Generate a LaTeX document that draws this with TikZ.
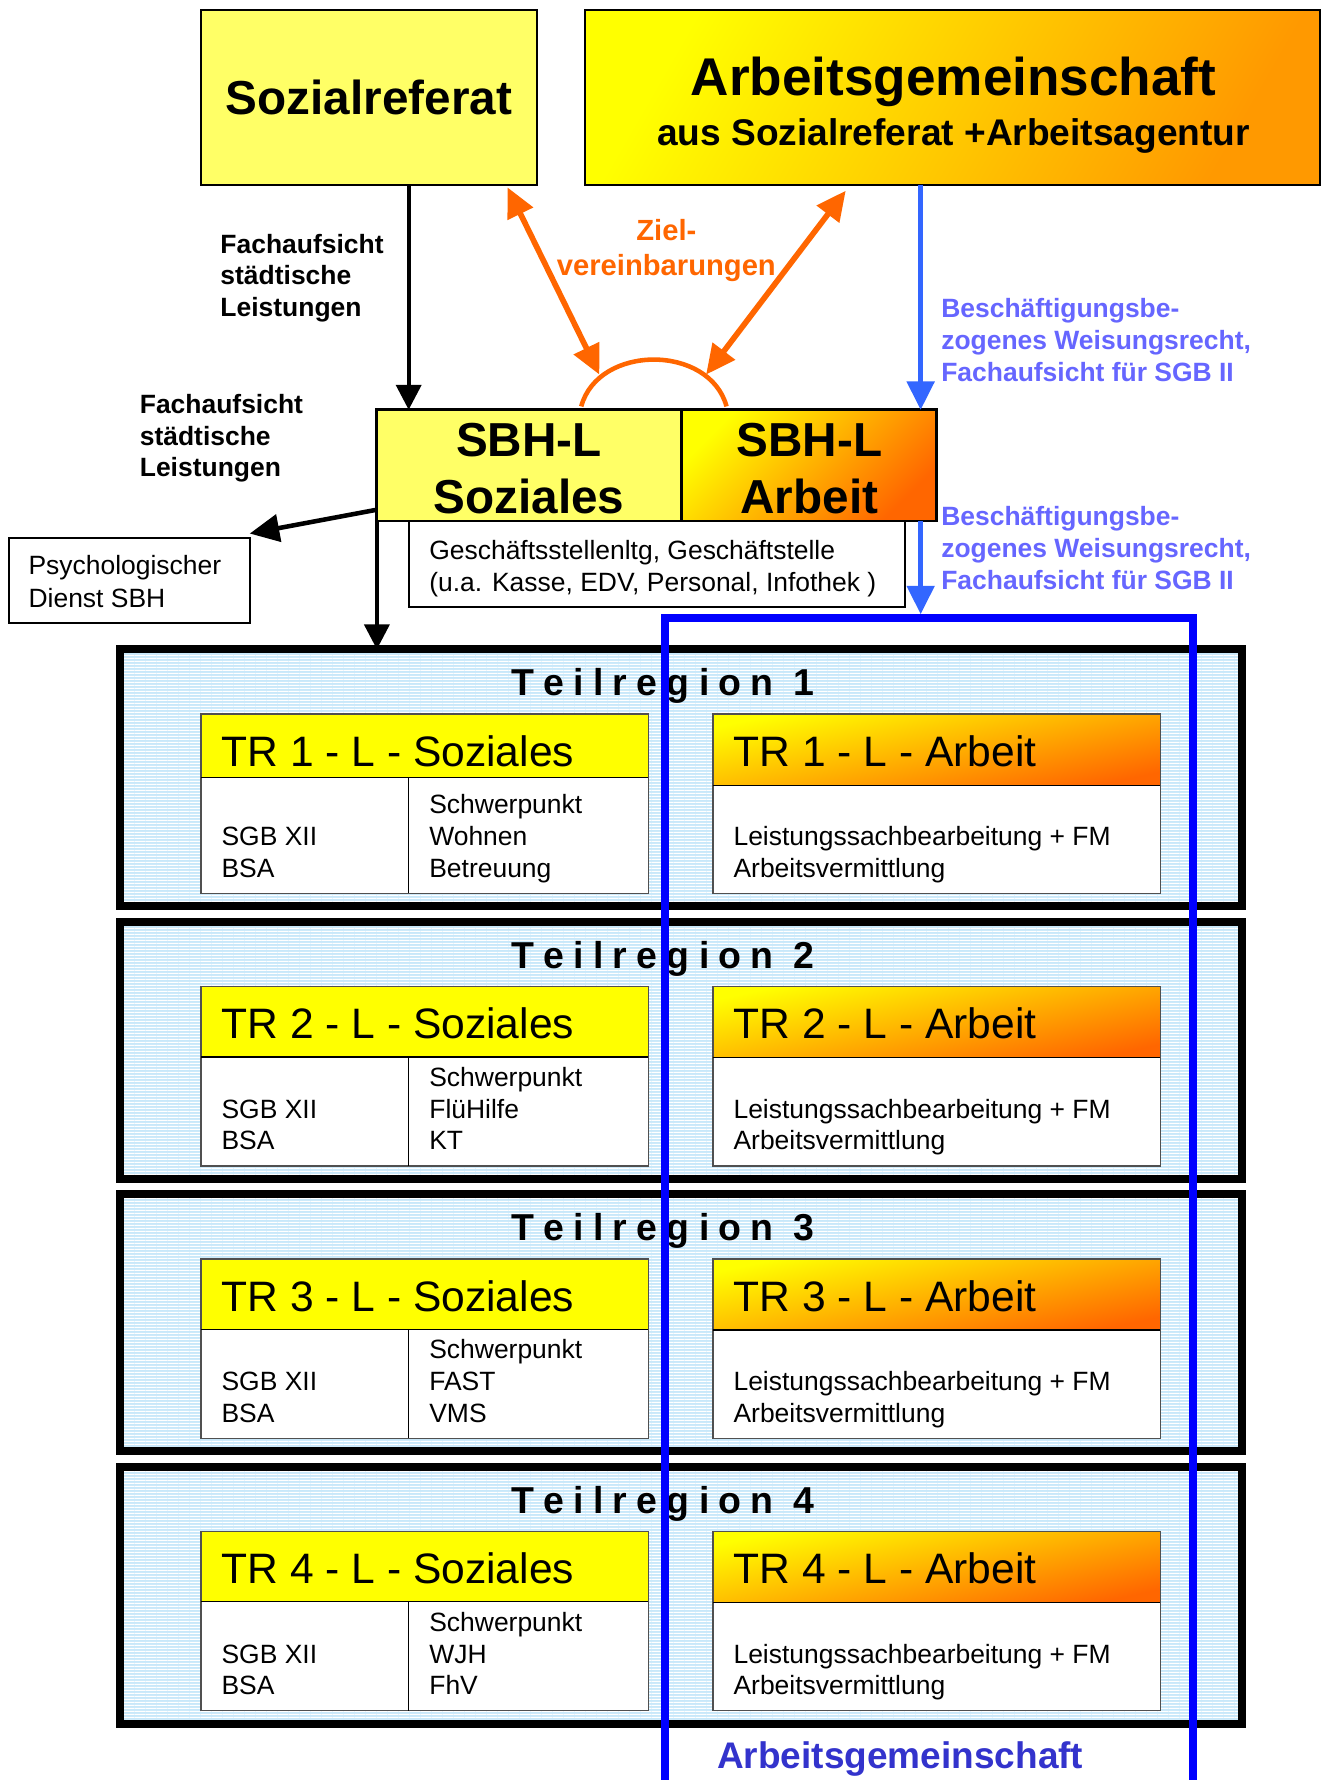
\documentclass[tikz,border=0pt]{standalone}
\usepackage{fontspec}
\setmainfont{Liberation Sans}
\usetikzlibrary{arrows.meta,patterns,calc}
\definecolor{softyellow}{HTML}{FFFF66}
\definecolor{pureyellow}{HTML}{FFFF00}
\definecolor{agorange}{HTML}{FF9900}
\definecolor{deeporange}{HTML}{FF6600}
\definecolor{labelblue}{HTML}{6666FF}
\definecolor{arrowblue}{HTML}{3366FF}
\definecolor{rectblue}{HTML}{0000FF}
\definecolor{argeblue}{HTML}{3333CC}
\definecolor{trblue}{HTML}{C8E8FA}
\definecolor{thingray}{HTML}{505050}
\pgfdeclarepatternformonly{hstripes}{\pgfpoint{0pt}{0pt}}{\pgfpoint{10pt}{2.64pt}}{\pgfpoint{10pt}{2.64pt}}{\pgfpathrectangle{\pgfpoint{0pt}{0pt}}{\pgfpoint{10pt}{0.9pt}}\pgfusepath{fill}}
\newcommand\tls{\hspace{8.2pt}}
\newcommand\fsz[2]{\fontsize{#1}{#2}\selectfont}
\begin{document}
\begin{tikzpicture}[x=1pt,y=-1pt,
  lbl/.style={inner sep=0pt, anchor=base west},
  clbl/.style={inner sep=0pt, anchor=base},
  boxnode/.style={inner sep=0pt, outer sep=0pt, anchor=north west},
  blk/.style={draw=black, line width=3.5pt, -{Triangle[length=22pt,width=22pt]}},
  org/.style={draw=deeporange, line width=5pt, {Triangle[length=26pt,width=24pt]}-{Triangle[length=26pt,width=24pt]}},
  blu/.style={draw=arrowblue, line width=4pt, -{Triangle[length=25pt,width=24pt]}},
  bodytxt/.style={lbl, font=\fsz{23.3}{28}},
  boldtxt/.style={lbl, font=\bfseries\fsz{23.3}{28}},
  bluetxt/.style={lbl, font=\bfseries\fsz{23.3}{28}, text=labelblue}]
\useasboundingbox (0,0) rectangle (1164,1568);
\clip (0,0) rectangle (1164,1568);

% ---------- top boxes ----------
\node[boxnode, draw, line width=2pt, fill=softyellow, minimum width=296pt, minimum height=154pt,
      font=\bfseries\fsz{42}{50}] (soz) at (177,9) {Sozialreferat};
\node[boxnode, draw, line width=2pt, top color=pureyellow, bottom color=agorange, shading angle=60,
      minimum width=648pt, minimum height=154pt] (ag) at (515,9) {};
\node[clbl, font=\bfseries\fsz{46.8}{56}] (agt1) at (840,84) {Arbeitsgemeinschaft};
\node[clbl, font=\bfseries\fsz{32.7}{39}] (agt2) at (840,128) {aus Sozialreferat +Arbeitsagentur};

% ---------- Geschaeftsstelle, SBH-L ----------
\node[boxnode, draw, line width=1.5pt, fill=white, minimum width=437pt, minimum height=76pt] (gs) at (360,459) {};
\node[bodytxt] (gs1) at (378,493) {Geschäftsstellenltg, Geschäftstelle};
\node[bodytxt] (gs2) at (378,521) {(u.a. Kasse, EDV, Personal, Infothek )};

\node[boxnode, draw, line width=2.5pt, fill=softyellow, minimum width=268pt, minimum height=98pt] (sbhs) at (332,361) {};
\node[boxnode, draw, line width=2.5pt, top color=pureyellow, bottom color=deeporange, shading angle=45,
      minimum width=225pt, minimum height=98pt] (sbha) at (600,361) {};
\node[clbl, font=\bfseries\fsz{42}{50}] (sbhs1) at (466,402) {SBH-L};
\node[clbl, font=\bfseries\fsz{42}{50}] (sbhs2) at (466,452) {Soziales};
\node[clbl, font=\bfseries\fsz{42}{50}] (sbha1) at (713,402) {SBH-L};
\node[clbl, font=\bfseries\fsz{42}{50}] (sbha2) at (713,452) {Arbeit};

% ---------- Psychologischer Dienst ----------
\node[boxnode, draw, line width=1.5pt, fill=white, minimum width=212pt, minimum height=75pt] (psy) at (8,474) {};
\node[bodytxt] (psy1) at (25,506) {Psychologischer};
\node[bodytxt] (psy2) at (25,535) {Dienst SBH};

% ---------- labels ----------
\node[boldtxt] (fa1) at (194,223) {Fachaufsicht};
\node[boldtxt] (fa2) at (194,251) {städtische};
\node[boldtxt] (fa3) at (194,279) {Leistungen};
\node[boldtxt] (fb1) at (123,364) {Fachaufsicht};
\node[boldtxt] (fb2) at (123,392) {städtische};
\node[boldtxt] (fb3) at (123,420) {Leistungen};
\node[clbl, font=\bfseries\fsz{25.7}{31}, text=deeporange] (z1) at (587,212) {Ziel-};
\node[clbl, font=\bfseries\fsz{25.7}{31}, text=deeporange] (z2) at (587,243) {vereinbarungen};
\node[bluetxt] (ba1) at (829,280) {Beschäftigungsbe-};
\node[bluetxt] (ba2) at (829,308) {zogenes Weisungsrecht,};
\node[bluetxt] (ba3) at (829,336) {Fachaufsicht für SGB II};
\node[bluetxt] (bb1) at (829,463) {Beschäftigungsbe-};
\node[bluetxt] (bb2) at (829,491) {zogenes Weisungsrecht,};
\node[bluetxt] (bb3) at (829,519) {Fachaufsicht für SGB II};

% ---------- Teilregionen ----------
\foreach \tn/\sone/\stwo/\hh in {1/Wohnen/Betreuung/56, 2/FlüHilfe/KT/62, 3/FAST/VMS/62, 4/WJH/FhV/62}{
  \pgfmathsetmacro\trtop{572+240*(\tn-1)}
  \begin{scope}[shift={(0,\trtop)}]
    \node[boxnode, draw, line width=7pt, preaction={fill=trblue}, preaction={pattern=hstripes, pattern color=white},
          minimum width=988pt, minimum height=226.5pt] (tr\tn) at (106,0) {};
    \node[inner sep=0pt, anchor=base west, font=\bfseries\fsz{33}{40}] (trt\tn) at (450,41)
      {T\tls e\tls i\tls l\tls r\tls e\tls g\tls i\tls o\tls n\tls\hspace{9pt}\tn};
    % Soziales box
    \fill[white] (177,57) rectangle (571,215);
    \fill[pureyellow] (177,57) rectangle (571,{57+\hh});
    \draw[thingray, line width=1.2pt] (177,57) rectangle (571,215);
    \draw[black, line width=1.2pt] (177,{57+\hh}) -- (571,{57+\hh}) (360,{57+\hh}) -- (360,215);
    % Arbeit box
    \fill[white] (628,57) rectangle (1022,215);
    \shade[top color=pureyellow, bottom color=deeporange, shading angle=12] (628,57) rectangle (1022,119.7);
    \draw[thingray, line width=1.2pt] (628,57) rectangle (1022,215);
    \draw[black, line width=1.2pt] (628,119.7) -- (1022,119.7);
    % texts
    \node[lbl, font=\fsz{37.5}{45}] (trsh\tn) at (195,103) {TR \tn\ - L - Soziales};
    \node[lbl, font=\fsz{37.5}{45}] (trah\tn) at (646,103) {TR \tn\ - L - Arbeit};
    \node[bodytxt] (trsa\tn) at (195,173) {SGB XII};
    \node[bodytxt] (trsb\tn) at (195,201) {BSA};
    \node[bodytxt] (trsc\tn) at (378,145) {Schwerpunkt};
    \node[bodytxt] (trsd\tn) at (378,173) {\sone};
    \node[bodytxt] (trse\tn) at (378,201) {\stwo};
    \node[bodytxt] (traa\tn) at (646,173) {Leistungssachbearbeitung + FM};
    \node[bodytxt] (trab\tn) at (646,201) {Arbeitsvermittlung};
  \end{scope}
}

% ---------- connectors ----------
\coordinate (bx) at (811,0);
\coordinate (arcL) at (528,330);
\coordinate (arcR) at (622,330);
\coordinate (bluetip) at (811,541);

\draw[blk] (soz.south -| gs.west) -- (sbhs.north -| gs.west);
\draw[blk, line width=4pt, -{Triangle[length=26pt,width=24pt]}] ([yshift=10pt]sbhs.south west) -- ([yshift=4pt]psy.north east);
\draw[blk] (sbhs.south west) -- (tr1.north -| sbhs.west);
\draw[blu] (ag.south -| bx) -- (sbha.north -| bx);
\draw[blu] (sbha.south -| bx) -- (bluetip);

\draw[deeporange, line width=4pt] (512,358) .. controls (527,303) and (625,303) .. (640,358);
\draw[org] ([xshift=-26pt,yshift=-2pt]soz.south east) -- (arcL);
\draw[org] ([xshift=230pt,yshift=-5pt]ag.south west) -- (arcR);

% ---------- Arbeitsgemeinschaft frame ----------
\draw[rectblue, line width=7pt] (586,1590) -- (586,544.5) -- (1051,544.5) -- (1051,1590);
\node[clbl, font=\bfseries\fsz{32.6}{39}, text=argeblue] (argelbl) at (793,1558) {Arbeitsgemeinschaft};
\end{tikzpicture}
\end{document}
